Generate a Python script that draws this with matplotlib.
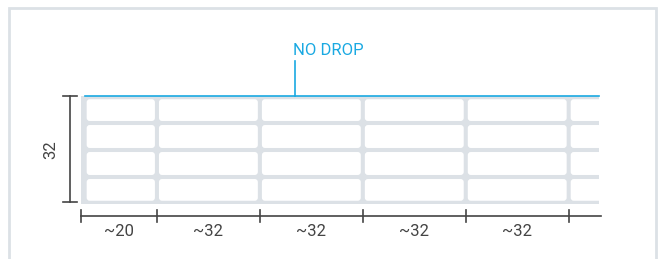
import matplotlib
matplotlib.use("Agg")
import matplotlib.pyplot as plt
from matplotlib.patches import FancyBboxPatch, Rectangle
import numpy as np

# brick layout (units: mm-ish, one course = 8)
col_widths = [22.5, 30.5, 30.5, 30.5, 30.5, 30.5]
col_labels = ["~20", "~32", "~32", "~32", "~32"]
n_courses = 4
wall_height = 32
visible_width = 153.5
height_label = "32"
drop_label = "NO DROP"
drop_label_x = 63.4

plt.rcParams["font.family"] = ["Roboto", "DejaVu Sans"]

GRAY = "#dce1e6"
BLUE = "#1aa9e2"
DARK = "#444444"
s = 3.375  # px per unit

fig = plt.figure(figsize=(6.59, 2.59), dpi=100)
ax = fig.add_axes([0, 0, 1, 1])
ax.set_xlim(-81 / s, (659 - 81) / s)
ax.set_ylim(-(259 - 204) / s, wall_height + 96 / s)
ax.axis("off")

# outer frame (open at bottom)
fx0, fx1, fy = -72 / s, 575 / s, wall_height + 88 / s
ax.plot([fx0, fx0, fx1, fx1], [-20, fy, fy, -20], color=GRAY, lw=2,
        solid_joinstyle="miter", zorder=5)

# mortar background
ax.add_patch(Rectangle((0, 0), visible_width, wall_height, fc=GRAY, ec="none", zorder=1))

gap = 1.2
course_h = wall_height / n_courses
edges = np.concatenate([[0], np.cumsum(col_widths)])
for i in range(len(col_widths)):
    for r in range(n_courses):
        x0 = edges[i] + (gap * 1.4 if i == 0 else gap / 2)
        x1 = edges[i + 1] - gap / 2
        y0 = r * course_h + gap / 2
        y1 = (r + 1) * course_h - gap / 2
        if r == 0:
            y0 += gap * 0.3
        if r == n_courses - 1:
            y1 -= gap * 0.3
        ax.add_patch(FancyBboxPatch((x0, y0), x1 - x0, y1 - y0,
                                    boxstyle="round,pad=0,rounding_size=0.9",
                                    fc="white", ec="none", zorder=2))
# wall is cut off on the right
ax.add_patch(Rectangle((visible_width, -1), 14, wall_height + 2, fc="white", ec="none", zorder=2.5))

# no-drop line
ax.plot([gap, visible_width], [wall_height, wall_height], color=BLUE, lw=1.2, zorder=3)
ax.plot([drop_label_x, drop_label_x], [wall_height, wall_height + 35 / s], color=BLUE, lw=1.2, zorder=3)
ax.text(drop_label_x - 0.6, wall_height + 38 / s, drop_label, color=BLUE, fontsize=12,
        ha="left", va="bottom")

# bottom dimension
dy = -12 / s
ax.plot([edges[0], visible_width + 0.6], [dy, dy], color=DARK, lw=1.2, zorder=3)
for e in edges[:len(col_labels) + 1]:
    ax.plot([e, e], [dy - 6 / s, dy + 6 / s], color=DARK, lw=1.2, zorder=3)
for i, lab in enumerate(col_labels):
    ax.text((edges[i] + edges[i + 1]) / 2, dy - 16 / s, lab, color=DARK,
            fontsize=12, ha="center", va="center")

# left dimension
dx = -11 / s
ax.plot([dx, dx], [0.5, wall_height], color=DARK, lw=1.2)
for yy in [0.5, wall_height]:
    ax.plot([dx - 7 / s, dx + 7 / s], [yy, yy], color=DARK, lw=1.2)
ax.text(dx - 19 / s, wall_height / 2, height_label, color=DARK, fontsize=12,
        rotation=90, ha="center", va="center")

fig.savefig("out.png", dpi=100)
